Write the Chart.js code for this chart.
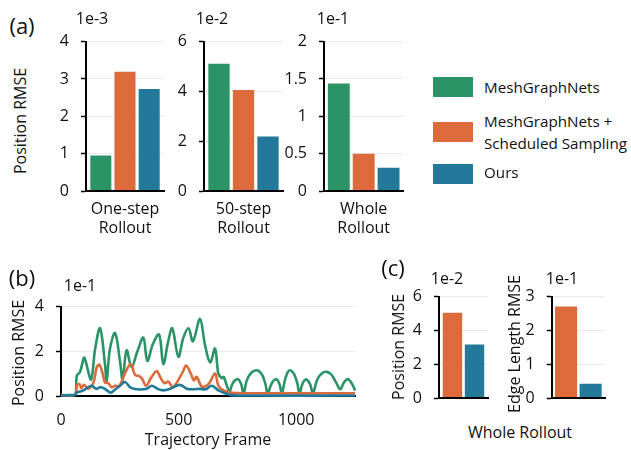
<!DOCTYPE html>
<html><head><meta charset="utf-8">
<script src="https://cdn.jsdelivr.net/npm/chart.js@4.4.1/dist/chart.umd.min.js"></script>
<style>
html,body{margin:0;padding:0;background:#fff;}
body{width:631px;height:450px;position:relative;overflow:hidden;font-family:"Open Sans",Lato,sans-serif;color:#111;}
canvas{position:absolute;}
.t{position:absolute;white-space:nowrap;line-height:1;font-size:16px;transform:translate(-50%,-50%);}
.rot{transform:translate(-50%,-50%) rotate(-90deg);}
.pl{font-size:22px;}
.lg{position:absolute;white-space:nowrap;font-size:15.2px;line-height:1;transform:translateY(-50%);}
.sw{position:absolute;width:40px;height:20px;}
</style></head><body>
<canvas id="a1" width="122" height="225" style="left:44px;top:20px"></canvas>
<canvas id="a2" width="115" height="225" style="left:170px;top:20px"></canvas>
<canvas id="a3" width="121" height="225" style="left:285px;top:20px"></canvas>
<canvas id="b1" width="340" height="165" style="left:20px;top:285px"></canvas>
<canvas id="c1" width="90" height="145" style="left:400px;top:275px"></canvas>
<canvas id="c2" width="93" height="145" style="left:515px;top:275px"></canvas>

<div class="t pl" style="left:22px;top:25px">(a)</div>
<div class="t pl" style="left:22px;top:277px">(b)</div>
<div class="t pl" style="left:393px;top:267px">(c)</div>

<div class="t" style="left:92px;top:18px">1e-3</div>
<div class="t" style="left:212px;top:18px">1e-2</div>
<div class="t" style="left:333px;top:18px">1e-1</div>
<div class="t" style="left:80px;top:285px">1e-1</div>
<div class="t" style="left:447px;top:278px">1e-2</div>
<div class="t" style="left:562px;top:278px">1e-1</div>

<div class="t rot" style="left:20px;top:121px">Position RMSE</div>
<div class="t rot" style="left:18px;top:353px">Position RMSE</div>
<div class="t rot" style="left:398px;top:347px">Position RMSE</div>
<div class="t rot" style="left:514px;top:344px">Edge Length RMSE</div>
<div class="t" style="left:520px;top:432px">Whole Rollout</div>

<div id="legend"></div>

<script>
// ---- data ----
const methods = ['MeshGraphNets', 'MeshGraphNets + Scheduled Sampling', 'Ours'];
const methodColors = ['#2b9467', '#dc6a3a', '#22799a'];
const catOneStep = ['One-step', 'Rollout'];
const catFiftyStep = ['50-step', 'Rollout'];
const catWhole = ['Whole', 'Rollout'];
const oneStepRmse = [0.95, 3.19, 2.73];      // x1e-3
const fiftyStepRmse = [5.11, 4.06, 2.19];    // x1e-2
const wholeRmse = [1.44, 0.50, 0.31];        // x1e-1
const cPositionRmse = [5.05, 3.18];          // x1e-2 (SS, Ours)
const cEdgeRmse = [2.71, 0.43];              // x1e-1 (SS, Ours)
const ticksA1 = [0, 1, 2, 3, 4];
const ticksA2 = [0, 2, 4, 6];
const ticksA3 = [0, 0.5, 1, 1.5, 2];
const ticksC1 = [0, 2, 4, 6];
const ticksC2 = [0, 1, 2, 3];
const ticksBy = [0, 2, 4];
const ticksBx = [0, 500, 1000];

const greenFrames = [0,30,60,67,81,98,106,128,145,166,187,194,208,230,251,262,279,300,325,350,367,390,417,435,455,473,499,520,542,561,591,612,634,655,669,684,692,716,727,740,755,767,776,790,810,833,855,870,878,893,905,918,930,939,952,963,974,990,1005,1014,1025,1035,1045,1060,1071,1090,1110,1130,1150,1170,1187,1200,1212,1223,1240,1250];
const greenRmse   = [0.03,0.04,0.06,0.9,1.08,1.72,1.5,0.74,2.1,3.03,1.43,0.67,2.1,2.82,1.54,0.74,2.05,1.29,2.0,2.61,1.57,2.3,2.75,1.43,2.4,3.03,1.75,2.6,3.03,2.45,3.45,2.3,1.5,2.12,1.0,0.8,0.85,0.2,0.5,0.7,0.74,0.5,0.1,0.7,1.05,1.15,0.95,0.5,0.1,0.5,0.7,0.74,0.5,0.12,0.7,1.05,1.15,1.0,0.55,0.1,0.5,0.7,0.74,0.5,0.12,0.75,1.02,1.08,0.95,0.6,0.3,0.55,0.72,0.74,0.5,0.25];
const orangeFrames = [0,60,67,79,86,98,116,138,152,163,177,187,200,216,230,248,272,296,315,330,343,362,382,407,421,440,457,475,492,518,532,552,565,577,599,627,655,669,691,726,800,1250];
const orangeRmse   = [0.03,0.05,0.46,0.53,0.35,0.5,0.32,0.6,1.29,1.4,1.01,0.6,0.58,0.39,0.46,0.45,1.01,1.43,0.94,0.9,0.8,0.46,0.8,1.12,0.86,0.58,0.64,0.39,0.6,1.08,1.36,1.0,0.7,0.86,0.42,0.53,1.01,0.46,0.25,0.14,0.12,0.12];
const blueFrames = [0,60,67,80,95,109,130,150,166,185,211,230,251,272,294,310,336,364,386,410,435,464,505,535,560,591,615,641,670,698,720,760,1250];
const blueRmse   = [0.03,0.05,0.15,0.2,0.25,0.35,0.46,0.32,0.39,0.33,0.15,0.29,0.46,0.63,0.39,0.32,0.29,0.32,0.46,0.32,0.25,0.32,0.5,0.32,0.3,0.32,0.3,0.46,0.25,0.12,0.05,0.02,0.02];

// ---- style ----
const FAM = '"Open Sans", Lato, sans-serif';
const FONT = {family: FAM, size: 16};
const TXT = '#111';
Chart.defaults.font = FONT;
Chart.defaults.color = TXT;
const plain = v => String(v);

// legend (HTML)
const lg = document.getElementById('legend');
const legendLines = [['MeshGraphNets'], ['MeshGraphNets +', 'Scheduled Sampling'], ['Ours']];
const swTops = [77, 122, 164];
const txtCenters = [[88], [122, 143.5], [173]];
methods.forEach((m, i) => {
  const sw = document.createElement('div');
  sw.className = 'sw'; sw.style.left = '433px'; sw.style.top = swTops[i] + 'px';
  sw.style.background = methodColors[i];
  lg.appendChild(sw);
  legendLines[i].forEach((ln, j) => {
    const d = document.createElement('div');
    d.className = 'lg'; d.style.left = '484px'; d.style.top = txtCenters[i][j] + 'px';
    d.textContent = ln; lg.appendChild(d);
  });
});

function yScale(max, ticks, width) {
  return {
    min: 0, max: max,
    afterBuildTicks: s => { s.ticks = ticks.map(v => ({value: v})); },
    afterFit: s => { s.width = width; },
    grid: {color: '#ebebeb', lineWidth: 1, tickColor: '#000', tickLength: 5, tickWidth: 1.5},
    border: {color: '#000', width: 2},
    ticks: {padding: 12, color: TXT, font: FONT, callback: plain}
  };
}

function barChart(id, cat, values, colorIdx, ymax, ticks, g) {
  new Chart(document.getElementById(id), {
    type: 'bar',
    data: {
      labels: [cat],
      datasets: values.map((v, i) => ({
        label: methods[colorIdx[i]], data: [v],
        backgroundColor: methodColors[colorIdx[i]], borderWidth: 0,
        categoryPercentage: g.cat, barPercentage: g.bar
      }))
    },
    options: {
      responsive: false, animation: false,
      layout: {padding: {top: g.pt, right: g.pr, left: 0, bottom: 0}},
      plugins: {legend: {display: false}, tooltip: {enabled: false}},
      scales: {
        x: {
          grid: {display: false},
          border: {color: '#000', width: 2, z: 1},
          ticks: {display: g.xlab, padding: 1, color: TXT, font: {family: FAM, size: 16, lineHeight: 1.18}, maxRotation: 0},
          afterFit: s => { s.height = g.xh; }
        },
        y: yScale(ymax, ticks, g.yw)
      }
    }
  });
}

barChart('a1', catOneStep, oneStepRmse, [0,1,2], 4, ticksA1, {cat: 0.93, bar: 0.87, pt: 13, pr: 2, yw: 42, xh: 54, xlab: true});
barChart('a2', catFiftyStep, fiftyStepRmse, [0,1,2], 6, ticksA2, {cat: 0.93, bar: 0.87, pt: 13, pr: 2, yw: 34, xh: 54, xlab: true});
barChart('a3', catWhole, wholeRmse, [0,1,2], 2, ticksA3, {cat: 0.94, bar: 0.88, pt: 13, pr: 2.6, yw: 39, xh: 54, xlab: true});
barChart('c1', '', cPositionRmse, [1,2], 6, ticksC1, {cat: 0.9, bar: 0.88, pt: 15.7, pr: 2, yw: 39, xh: 6.7, xlab: false});
barChart('c2', '', cEdgeRmse, [1,2], 3, ticksC2, {cat: 0.92, bar: 0.9, pt: 15.7, pr: 3, yw: 36.7, xh: 6.7, xlab: false});

function pts(fr, vals) { return fr.map((f, i) => ({x: f, y: vals[i]})); }
const lineDs = (lbl, fr, vals, ci, ord) => ({
  label: lbl, data: pts(fr, vals), borderColor: methodColors[ci], borderWidth: 2.6,
  pointRadius: 0, tension: 0.35, fill: false, order: ord, clip: 6
});

new Chart(document.getElementById('b1'), {
  type: 'line',
  data: {
    datasets: [
      lineDs(methods[0], greenFrames, greenRmse, 0, 2),
      lineDs(methods[1], orangeFrames, orangeRmse, 1, 1),
      lineDs(methods[2], blueFrames, blueRmse, 2, 0)
    ]
  },
  options: {
    responsive: false, animation: false,
    layout: {padding: {top: 15, right: 5, left: 0, bottom: 0}},
    plugins: {legend: {display: false}, tooltip: {enabled: false}},
    scales: {
      x: {
        type: 'linear', min: 0, max: 1250,
        afterBuildTicks: s => { s.ticks = ticksBx.map(v => ({value: v})); },
        afterFit: s => { s.height = 54; },
        grid: {display: false},
        border: {color: '#000', width: 2},
        ticks: {padding: 7, color: TXT, font: FONT, maxRotation: 0, autoSkip: false, callback: plain},
        title: {display: true, text: 'Trajectory Frame', color: TXT, font: FONT, padding: 0}
      },
      y: yScale(4, ticksBy, 41)
    }
  }
});
</script>
</body></html>
